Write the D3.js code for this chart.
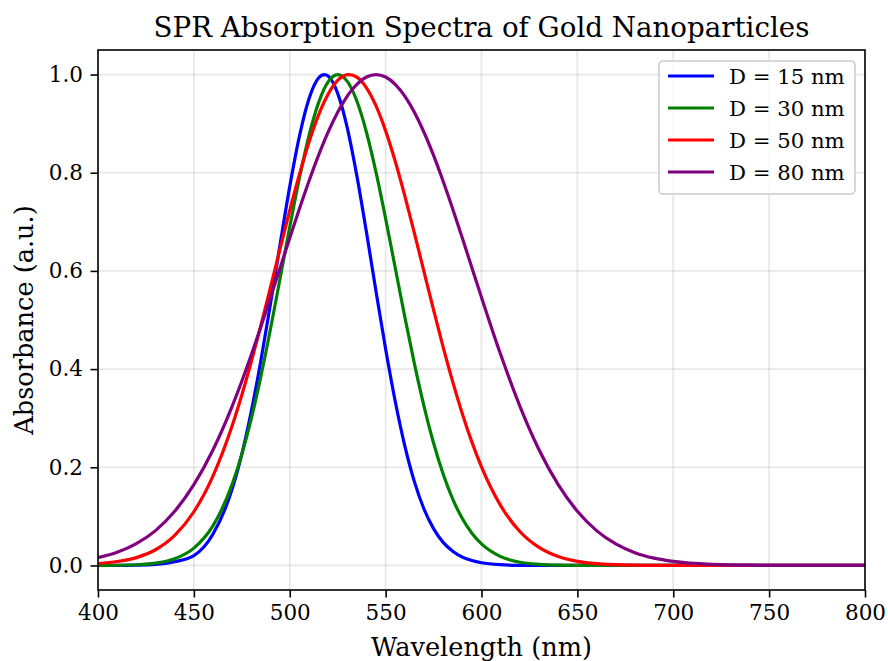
<!DOCTYPE html>
<html>
<head>
<meta charset="utf-8">
<script src="https://cdn.jsdelivr.net/npm/d3@7/dist/d3.min.js"></script>
<style>
  html, body { margin: 0; padding: 0; background: #fff; }
  svg { display: block; font-family: "DejaVu Serif", serif; }
</style>
</head>
<body>
<svg id="chart" width="888" height="661"></svg>
<script>
// ---- data ----
const wavelengths = [400,410,420,430,440,450,460,470,475,480,485,490,495,500,505,510,515,518,520,525,530,531,535,540,545,550,555,560,565,570,575,580,585,590,595,600,610,620,630,640,650,660,670,680,690,700,720,740,760,780,800];

const absD15 = [0.0000,0.0001,0.0005,0.0020,0.0077,0.0200,0.0640,0.1560,0.2270,0.3150,0.4185,0.5341,0.6550,0.7717,0.8735,0.9501,0.9928,1.0000,0.9968,0.9616,0.8912,0.8735,0.7936,0.6790,0.5581,0.4408,0.3345,0.2438,0.1708,0.1150,0.0750,0.0470,0.0290,0.0170,0.0100,0.0055,0.0015,0.0003,0,0,0,0,0,0,0,0,0,0,0,0,0];

const absD30 = [0.0001,0.0004,0.0014,0.0047,0.0136,0.0353,0.0811,0.1656,0.2262,0.3000,0.3863,0.4827,0.5856,0.6896,0.7883,0.8748,0.9423,0.9713,0.9852,1.0000,0.9862,0.9802,0.9460,0.8825,0.8007,0.7066,0.6065,0.5063,0.4111,0.3247,0.2494,0.1863,0.1353,0.0956,0.0657,0.0439,0.0181,0.0066,0.0022,0.0006,0.0002,0,0,0,0,0,0,0,0,0,0];

const absD50 = [0.0040,0.0080,0.0160,0.0320,0.0612,0.1094,0.1826,0.2850,0.3472,0.4159,0.4898,0.5672,0.6458,0.7232,0.7961,0.8618,0.9173,0.9446,0.9600,0.9879,0.9997,1.0000,0.9946,0.9730,0.9360,0.8853,0.8234,0.7530,0.6771,0.5986,0.5204,0.4449,0.3739,0.3091,0.2512,0.2007,0.1218,0.0691,0.0367,0.0182,0.0084,0.0036,0.0015,0.0006,0.0002,0,0,0,0,0,0];

const absD80 = [0.0160,0.0270,0.0445,0.0710,0.1103,0.1645,0.2357,0.3247,0.3753,0.4296,0.4868,0.5461,0.6065,0.6670,0.7261,0.7827,0.8353,0.8643,0.8825,0.9231,0.9560,0.9616,0.9802,0.9950,1.0000,0.9950,0.9802,0.9560,0.9231,0.8825,0.8353,0.7827,0.7261,0.6670,0.6065,0.5461,0.4296,0.3247,0.2357,0.1645,0.1103,0.0710,0.0439,0.0261,0.0149,0.0082,0.0022,0.0005,0.0001,0,0];

const seriesNames = ["D = 15 nm", "D = 30 nm", "D = 50 nm", "D = 80 nm"];
const seriesColors = ["#0000ff", "#008000", "#ff0000", "#800080"];
const seriesValues = [absD15, absD30, absD50, absD80];

const xTicks = [400,450,500,550,600,650,700,750,800];
const yTicks = [0.0,0.2,0.4,0.6,0.8,1.0];

const titleText = "SPR Absorption Spectra of Gold Nanoparticles";
const xLabel = "Wavelength (nm)";
const yLabel = "Absorbance (a.u.)";

// ---- layout ----
const svg = d3.select("#chart");
const plot = { left: 98, right: 865, top: 50, bottom: 590 };

const x = d3.scaleLinear().domain([400, 800]).range([plot.left, plot.right]);
const y = d3.scaleLinear().domain([-0.05, 1.05]).range([plot.bottom, plot.top]);

// grid
const grid = svg.append("g");
grid.selectAll("line.vx").data(xTicks).join("line")
  .attr("x1", d => x(d)).attr("x2", d => x(d))
  .attr("y1", plot.top).attr("y2", plot.bottom)
  .attr("stroke", "#b0b0b0").attr("stroke-opacity", 0.3).attr("stroke-width", 1.7);
grid.selectAll("line.hy").data(yTicks).join("line")
  .attr("x1", plot.left).attr("x2", plot.right)
  .attr("y1", d => y(d)).attr("y2", d => y(d))
  .attr("stroke", "#b0b0b0").attr("stroke-opacity", 0.3).attr("stroke-width", 1.7);

// clip
svg.append("clipPath").attr("id", "clip").append("rect")
  .attr("x", plot.left).attr("y", plot.top)
  .attr("width", plot.right - plot.left).attr("height", plot.bottom - plot.top);

const line = d3.line()
  .x((d, i) => x(wavelengths[i]))
  .y(d => y(d))
  .curve(d3.curveMonotoneX);

svg.append("g").attr("clip-path", "url(#clip)")
  .selectAll("path").data(seriesValues).join("path")
  .attr("d", d => line(d))
  .attr("fill", "none")
  .attr("stroke", (d, i) => seriesColors[i])
  .attr("stroke-width", 3.2)
  .attr("stroke-linejoin", "round")
  .attr("stroke-linecap", "square");

// axes
const xAxis = d3.axisBottom(x).tickValues(xTicks).tickFormat(d3.format("d")).tickSize(7.5).tickPadding(7.5);
const yAxis = d3.axisLeft(y).tickValues(yTicks).tickFormat(d3.format(".1f")).tickSize(7.5).tickPadding(7.5);

const gx = svg.append("g").attr("transform", `translate(0,${plot.bottom})`).call(xAxis);
const gy = svg.append("g").attr("transform", `translate(${plot.left},0)`).call(yAxis);
[gx, gy].forEach(g => {
  g.select(".domain").remove();
  g.selectAll(".tick line").attr("stroke", "#000").attr("stroke-width", 1.6);
  g.selectAll(".tick text").attr("fill", "#000")
    .style("font-family", "'DejaVu Serif', serif").style("font-size", "21.5px");
});

// frame
svg.append("rect")
  .attr("x", plot.left).attr("y", plot.top)
  .attr("width", plot.right - plot.left).attr("height", plot.bottom - plot.top)
  .attr("fill", "none").attr("stroke", "#000").attr("stroke-width", 1.6);

// title and labels
svg.append("text").attr("x", (plot.left + plot.right) / 2).attr("y", 37)
  .attr("text-anchor", "middle").style("font-size", "27.7px").text(titleText);
svg.append("text").attr("x", (plot.left + plot.right) / 2).attr("y", 656)
  .attr("text-anchor", "middle").style("font-size", "25.6px").text(xLabel);
svg.append("text")
  .attr("transform", `translate(33,${(plot.top + plot.bottom) / 2}) rotate(-90)`)
  .attr("text-anchor", "middle").style("font-size", "25.6px").text(yLabel);

// legend
const lg = svg.append("g");
lg.append("rect").attr("x", 659).attr("y", 61).attr("width", 196).attr("height", 133)
  .attr("rx", 4).attr("fill", "#fff").attr("fill-opacity", 0.8)
  .attr("stroke", "#cccccc").attr("stroke-width", 1.6);
const items = lg.selectAll("g.item").data(seriesNames).join("g")
  .attr("transform", (d, i) => `translate(0,${76 + i * 32})`);
items.append("line").attr("x1", 668).attr("x2", 714).attr("y1", 0).attr("y2", 0)
  .attr("stroke", (d, i) => seriesColors[i]).attr("stroke-width", 3.2);
items.append("text").attr("x", 729).attr("y", 7.5)
  .style("font-size", "21.2px").text(d => d);
</script>
</body>
</html>
